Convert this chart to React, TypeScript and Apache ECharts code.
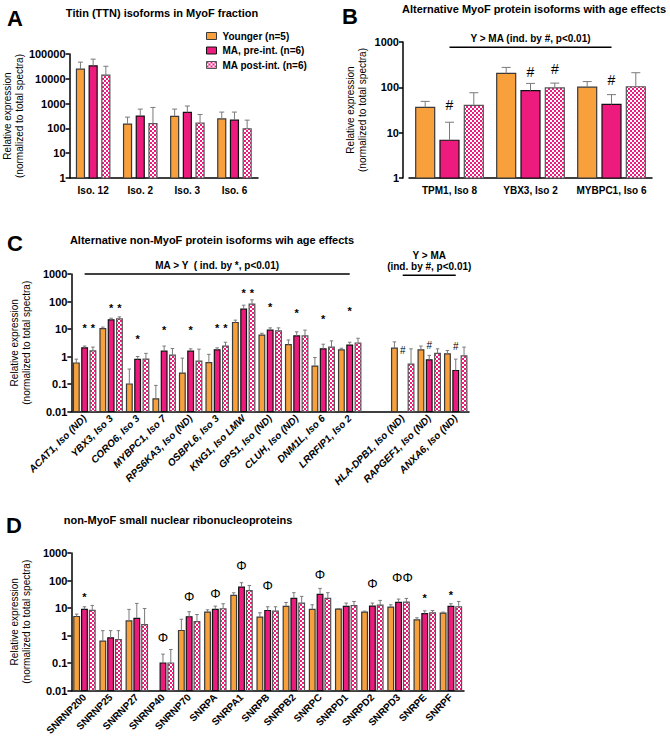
import React, { useEffect, useRef } from 'react';
import * as echarts from 'echarts';

const GROUPS = ['Younger (n=5)', 'MA, pre-int. (n=6)', 'MA post-int. (n=6)'];

// Panel A
const catsA = ['Iso. 12', 'Iso. 2', 'Iso. 3', 'Iso. 6'];
const youngA = [24500, 150, 305, 240];
const youngAErr = [47000, 285, 600, 455];
const preA = [33500, 315, 440, 215];
const preAErr = [62000, 600, 800, 455];
const postA = [14000, 155, 165, 97];
const postAErr = [32000, 700, 365, 215];

// Panel B
const catsB = ['TPM1, Iso 8', 'YBX3, Iso 2', 'MYBPC1, Iso 6'];
const youngB = [36, 203, 101];
const youngBErr = [49, 275, 134];
const preB = [6.8, 85, 42];
const preBErr = [17, 122, 69];
const postB = [40, 97, 103];
const postBErr = [76, 124, 210];
const markersB = [
  { cat: 0, pos: 1, text: '#', value: 40 },
  { cat: 1, pos: 1, text: '#', value: 218 },
  { cat: 1, pos: 2, text: '#', value: 256 },
  { cat: 2, pos: 1, text: '#', value: 142 },
];
const bracketsB = [{ from: -0.36, to: 2.23, value: 766, text: ['Y > MA (ind. by #, p<0.01)'] }];

// Panel C
const catsC = ['ACAT1, Iso (ND)', 'YBX3, Iso 3', 'CORO6, Iso 3', 'MYBPC1, Iso 7', 'RPS6KA3, Iso (ND)', 'OSBPL6, Iso 3', 'KNG1, Iso LMW', 'GPS1, Iso (ND)', 'CLUH, Iso (ND)', 'DNM1L, Iso 6', 'LRRFIP1, Iso 2', '', 'HLA-DPB1, Iso (ND)', 'RAPGEF1, Iso (ND)', 'ANXA6, Iso (ND)'];
const youngC = [0.58, 10.4, 0.1, 0.029, 0.25, 0.6, 17.2, 6.0, 2.7, 0.45, 1.75, null, 2.0, 1.75, 1.25];
const youngCErr = [0.8, 11.7, 0.35, 0.089, 0.87, 1.2, 21, 7.0, 4.0, 0.92, 2.0, null, 3.4, 2.4, 1.65];
const preC = [2.07, 21.5, 0.78, 1.56, 1.56, 1.75, 52.6, 9.1, 5.6, 1.9, 2.6, null, null, 0.76, 0.31];
const preCErr = [2.4, 24.7, 1.0, 2.4, 1.9, 2.06, 73.5, 11, 7.9, 2.8, 3.3, null, null, 1.1, 0.8];
const postC = [1.6, 23.4, 0.8, 1.12, 0.68, 2.4, 80, 8.6, 5.6, 2.2, 3.1, null, 0.53, 1.3, 1.06];
const postCErr = [2.2, 27.6, 1.3, 1.95, 1.85, 3.3, 115, 11, 9.1, 3.7, 4.6, null, 1.9, 1.9, 2.2];
const markersC = [
  { cat: 0, pos: 1, text: '*', value: 14 }, { cat: 0, pos: 2, text: '*', value: 14 },
  { cat: 1, pos: 1, text: '*', value: 75 }, { cat: 1, pos: 2, text: '*', value: 75 },
  { cat: 2, pos: 1, text: '*', value: 5.6 },
  { cat: 3, pos: 1, text: '*', value: 11.7 },
  { cat: 4, pos: 1, text: '*', value: 11.7 },
  { cat: 5, pos: 1, text: '*', value: 14 }, { cat: 5, pos: 2, text: '*', value: 14 },
  { cat: 6, pos: 1, text: '*', value: 265 }, { cat: 6, pos: 2, text: '*', value: 265 },
  { cat: 7, pos: 1, text: '*', value: 82 },
  { cat: 8, pos: 1, text: '*', value: 50 },
  { cat: 9, pos: 1, text: '*', value: 28.5 },
  { cat: 10, pos: 1, text: '*', value: 60 },
  { cat: 12, pos: 1, text: '#', value: 1.6 },
  { cat: 13, pos: 1, text: '#', value: 2.6 },
  { cat: 14, pos: 1, text: '#', value: 2.3 },
];
const bracketsC = [
  { from: -0.3, to: 10.26, value: 1000, text: ['MA > Y  ( ind. by *, p<0.01)'] },
  { from: 11.67, to: 14.22, value: 900, text: ['(ind. by #, p<0.01)', 'Y > MA'] },
];

// Panel D
const catsD = ['SNRNP200', 'SNRNP25', 'SNRNP27', 'SNRNP40', 'SNRNP70', 'SNRPA', 'SNRPA1', 'SNRPB', 'SNRPB2', 'SNRPC', 'SNRPD1', 'SNRPD2', 'SNRPD3', 'SNRPE', 'SNRPF'];
const youngD = [4.9, 0.62, 3.4, null, 1.52, 7.1, 28.7, 4.65, 11.4, 8.9, 9.1, 7.1, 10.8, 3.7, 6.5];
const youngDErr = [6.0, 1.5, 8.9, null, 3.9, 8.6, 35.9, 6.7, 15.9, 13.1, 9.6, 7.7, 13.1, 4.4, 7.1];
const preD = [8.9, 0.82, 4.2, 0.1, 4.8, 8.9, 57.6, 8.1, 22.3, 31.2, 11.4, 11.7, 15.9, 6.2, 11.4];
const preDErr = [11.1, 1.5, 14.7, 0.21, 7.3, 11.7, 83, 11.1, 36, 51.6, 15.1, 15.1, 21.1, 7.9, 14.3];
const postD = [8.2, 0.71, 2.5, 0.1, 3.2, 9.4, 42.5, 7.7, 15.1, 22.3, 12.1, 12.7, 16.4, 6.7, 11.1];
const postDErr = [12.4, 1.5, 9.6, 0.31, 5.8, 14.3, 66, 11.1, 26.5, 36, 17.3, 18.9, 22.3, 8.1, 17.3];
const markersD = [
  { cat: 0, pos: 1, text: '*', value: 33 },
  { cat: 3, pos: 1, text: 'Φ', value: 0.87 },
  { cat: 4, pos: 1, text: 'Φ', value: 25.7 },
  { cat: 5, pos: 1, text: 'Φ', value: 33 },
  { cat: 6, pos: 1, text: 'Φ', value: 337 },
  { cat: 7, pos: 1, text: 'Φ', value: 66 },
  { cat: 9, pos: 1, text: 'Φ', value: 167 },
  { cat: 11, pos: 1, text: 'Φ', value: 79 },
  { cat: 12, pos: 1.5, text: 'ΦΦ', value: 134 },
  { cat: 13, pos: 1, text: '*', value: 29.5 },
  { cat: 14, pos: 1, text: '*', value: 38 },
];

const ORANGE = '#F8A03C';
const PINK = '#EC1B7D';
const FONT = '"Liberation Sans", Arial, Helvetica, sans-serif';
const YNAME = 'Relative expression\n(normalized to total spectra)';

function makeChecker() {
  const c = document.createElement('canvas');
  c.width = 4;
  c.height = 4;
  const ctx = c.getContext('2d')!;
  ctx.fillStyle = '#ffffff';
  ctx.fillRect(0, 0, 4, 4);
  ctx.fillStyle = PINK;
  ctx.fillRect(0, 0, 2, 2);
  ctx.fillRect(2, 2, 2, 2);
  return c;
}

function fmt(v: number) {
  return String(Number(Number(v).toPrecision(6)));
}

function buildOption() {
  const checker = { image: makeChecker(), repeat: 'repeat', imageWidth: 4, imageHeight: 4 } as any;
  const fills = [ORANGE, PINK, checker];
  const strokes = ['#3a3a3a', '#111111', '#555555'];

  const panels = [
    { cats: catsA, vals: [youngA, preA, postA], errs: [youngAErr, preAErr, postAErr], markers: [] as any[], brackets: [] as any[],
      lay: { left: 62, top: 54, width: 196, height: 124, min: 1, max: 100000, barW: 8, pitch: 12.7, cap: 5, yOffset: 0 },
      rotate: 0, italic: false, nameGap: 36, markSize: { '*': 12, '#': 14, 'Φ': 13, 'ΦΦ': 13 } },
    { cats: catsB, vals: [youngB, preB, postB], errs: [youngBErr, preBErr, postBErr], markers: markersB, brackets: bracketsB,
      lay: { left: 409, top: 42, width: 243, height: 136, min: 1, max: 1000, barW: 19, pitch: 24.3, cap: 9, yOffset: 6 },
      rotate: 0, italic: false, nameGap: 35, markSize: { '*': 12, '#': 14, 'Φ': 13, 'ΦΦ': 13 } },
    { cats: catsC, vals: [youngC, preC, postC], errs: [youngCErr, preCErr, postCErr], markers: markersC, brackets: bracketsC,
      lay: { left: 67, top: 274, width: 402, height: 137.5, min: 0.01, max: 1000, barW: 5.7, pitch: 8.3, cap: 3.5, yOffset: 0 },
      rotate: 45, italic: true, nameGap: 36, markSize: { '*': 11, '#': 10, 'Φ': 13, 'ΦΦ': 13 } },
    { cats: catsD, vals: [youngD, preD, postD], errs: [youngDErr, preDErr, postDErr], markers: markersD, brackets: [] as any[],
      lay: { left: 65, top: 553, width: 399, height: 137.5, min: 0.01, max: 1000, barW: 5.7, pitch: 7.8, cap: 3.5, yOffset: 0 },
      rotate: 45, italic: false, nameGap: 35, markSize: { '*': 11, '#': 10, 'Φ': 13, 'ΦΦ': 13 } },
  ];

  const grid: any[] = [];
  const xAxis: any[] = [];
  const yAxis: any[] = [];
  const series: any[] = [];

  panels.forEach((p, gi) => {
    const L = p.lay;
    grid.push({ left: L.left, top: L.top, width: L.width, height: L.height });
    xAxis.push({
      type: 'category', gridIndex: gi, data: p.cats,
      axisLine: { onZero: false, lineStyle: { color: '#000', width: 1.5 } },
      axisTick: { alignWithLabel: true, length: 4, lineStyle: { color: '#000', width: 1.5 } },
      axisLabel: {
        interval: 0, rotate: p.rotate, color: '#000', fontWeight: 'bold', fontSize: 10,
        fontStyle: p.italic ? 'italic' : 'normal', fontFamily: FONT, margin: p.rotate ? 5 : 7,
      },
      splitLine: { show: false },
    });
    yAxis.push({
      type: 'log', gridIndex: gi, min: L.min, max: L.max, logBase: 10, offset: L.yOffset,
      axisLine: { show: true, lineStyle: { color: '#000', width: 1.5 } },
      axisTick: { show: true, length: 4, lineStyle: { color: '#000', width: 1.5 } },
      axisLabel: { color: '#000', fontWeight: 'bold', fontSize: 11, fontFamily: FONT, margin: 4, formatter: fmt },
      splitLine: { show: false },
      minorTick: { show: false },
      name: YNAME, nameLocation: 'middle', nameGap: p.nameGap, nameRotate: 90,
      nameTextStyle: { color: '#000', fontSize: 10, lineHeight: 12, fontFamily: FONT },
    });

    [0, 1, 2].forEach((si) => {
      const vals = p.vals[si] as (number | null)[];
      const errs = p.errs[si] as (number | null)[];
      series.push({
        type: 'custom', name: GROUPS[si], xAxisIndex: gi, yAxisIndex: gi,
        itemStyle: { color: si === 2 ? PINK : fills[si] },
        data: vals.map((v, i) => [i, v == null ? '-' : v]),
        renderItem: (params: any, api: any) => {
          const i = params.dataIndex;
          const v = vals[i];
          if (v == null) return null;
          const top = api.coord([i, v]);
          const base = api.coord([i, L.min]);
          const x = top[0] + (si - 1) * L.pitch;
          const children: any[] = [
            {
              type: 'rect',
              shape: { x: x - L.barW / 2, y: top[1], width: L.barW, height: base[1] - top[1] },
              style: { fill: fills[si], stroke: strokes[si], lineWidth: 1.2 },
            },
          ];
          const e = errs[i];
          if (e != null) {
            const et = api.coord([i, e]);
            children.push({ type: 'line', shape: { x1: x, y1: top[1], x2: x, y2: et[1] }, style: { stroke: '#7a7a7a', lineWidth: 1 } });
            children.push({ type: 'line', shape: { x1: x - L.cap / 2, y1: et[1], x2: x + L.cap / 2, y2: et[1] }, style: { stroke: '#7a7a7a', lineWidth: 1 } });
          }
          return { type: 'group', children };
        },
      });
    });

    if (p.markers.length) {
      const ms = p.markers;
      series.push({
        type: 'custom', name: 'markers' + gi, xAxisIndex: gi, yAxisIndex: gi,
        data: ms.map((m: any) => [m.cat, m.value]),
        renderItem: (params: any, api: any) => {
          const m = ms[params.dataIndex];
          const pt = api.coord([m.cat, m.value]);
          const x = pt[0] + (m.pos - 1) * L.pitch;
          const star = m.text === '*';
          return {
            type: 'text', x, y: pt[1] + (star ? 3 : 0),
            style: {
              text: m.text, fill: '#000', fontSize: (p.markSize as any)[m.text], fontFamily: FONT,
              fontWeight: star ? 'bold' : 'normal', align: 'center', verticalAlign: 'middle',
            },
          };
        },
      });
    }

    if (p.brackets.length) {
      const bs = p.brackets;
      series.push({
        type: 'custom', name: 'brackets' + gi, xAxisIndex: gi, yAxisIndex: gi,
        data: bs.map((b: any) => [b.from, b.value]),
        renderItem: (params: any, api: any) => {
          const b = bs[params.dataIndex];
          const p1 = api.coord([b.from, b.value]);
          const p2 = api.coord([b.to, b.value]);
          const children: any[] = [
            { type: 'line', shape: { x1: p1[0], y1: p1[1], x2: p2[0], y2: p1[1] }, style: { stroke: '#000', lineWidth: 1.5 } },
          ];
          b.text.forEach((t: string, k: number) => {
            children.push({
              type: 'text', x: (p1[0] + p2[0]) / 2, y: p1[1] - 9 - k * 11,
              style: { text: t, fill: '#000', fontSize: 10, fontWeight: 'bold', fontFamily: FONT, align: 'center', verticalAlign: 'middle' },
            });
          });
          return { type: 'group', children };
        },
      });
    }
  });

  const letter = (t: string, x: number, y: number) => ({
    type: 'text', x, y,
    style: { text: t, fill: '#000', fontSize: 22, fontWeight: 'bold', fontFamily: FONT, textAlign: 'left', textVerticalAlign: 'middle', align: 'left', verticalAlign: 'middle' },
  });
  const title = (t: string, x: number, y: number) => ({
    type: 'text', x, y,
    style: { text: t, fill: '#000', fontSize: 11, fontWeight: 'bold', fontFamily: FONT, textAlign: 'center', textVerticalAlign: 'middle', align: 'center', verticalAlign: 'middle' },
  });

  return {
    animation: false,
    backgroundColor: '#ffffff',
    textStyle: { fontFamily: FONT },
    grid, xAxis, yAxis, series,
    legend: {
      left: 206, top: 31, orient: 'vertical', padding: 0, itemGap: 4.5, itemWidth: 10, itemHeight: 7,
      textStyle: { fontSize: 10, fontWeight: 'bold', color: '#000', fontFamily: FONT, padding: [0, 0, 0, 1] },
      data: [
        { name: GROUPS[0], icon: 'rect', itemStyle: { color: ORANGE, borderColor: '#3a3a3a', borderWidth: 1 } },
        { name: GROUPS[1], icon: 'rect', itemStyle: { color: PINK, borderColor: '#111', borderWidth: 1 } },
        { name: GROUPS[2], icon: 'rect', itemStyle: { color: checker, borderColor: '#555', borderWidth: 1 } },
      ],
      selectedMode: false,
    },
    graphic: [
      letter('A', 7, 18),
      title('Titin (TTN) isoforms in MyoF fraction', 162, 13),
      letter('B', 342, 16),
      title('Alternative MyoF protein isoforms with age effects', 534, 9),
      letter('C', 7, 243),
      title('Alternative non-MyoF protein isoforms wih age effects', 212, 240),
      letter('D', 6, 525),
      title('non-MyoF small nuclear ribonucleoproteins', 178, 520),
    ],
  };
}

export default function App() {
  const ref = useRef<HTMLDivElement>(null);
  useEffect(() => {
    document.body.style.margin = '0';
    const chart = echarts.init(ref.current!, null, { renderer: 'svg' });
    chart.setOption(buildOption() as any);
    return () => chart.dispose();
  }, []);
  return <div ref={ref} style={{ width: 670, height: 742 }} />;
}
